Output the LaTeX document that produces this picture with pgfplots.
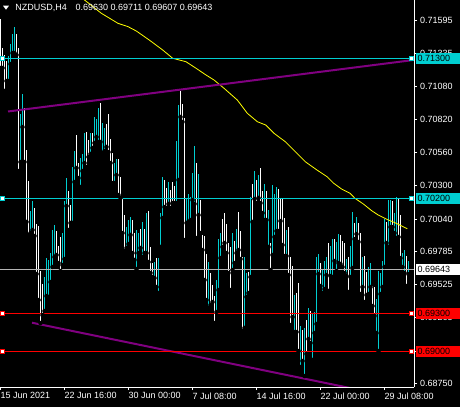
\documentclass[border=0pt]{standalone}
\usepackage{fontspec}
\setmainfont{Liberation Sans}
\usepackage{pgfplots}
\usepackage{pgfplotstable}
\pgfplotsset{compat=1.18}
\definecolor{mtcyan}{RGB}{0,206,209}
\definecolor{mtred}{RGB}{255,0,0}
\definecolor{mtpurple}{RGB}{128,0,128}
\definecolor{mtgray}{RGB}{180,180,180}
\definecolor{mtyellow}{RGB}{255,255,0}

\pgfplotstableread{
i lo hi
0 0.71224 0.71608
1 0.71224 0.71381
2 0.71044 0.71326
3 0.71122 0.71279
8 0.71326 0.71490
9 0.70416 0.71381
12 0.70487 0.70910
13 0.70017 0.70581
14 0.69915 0.70338
17 0.69907 0.70126
18 0.69609 0.70001
19 0.69405 0.69985
20 0.69225 0.69632
21 0.69287 0.69530
28 0.69758 0.69946
29 0.69695 0.69828
30 0.69632 0.69899
34 0.69954 0.70260
35 0.70009 0.70150
38 0.70440 0.70699
39 0.70361 0.70479
43 0.70448 0.70722
44 0.70526 0.70659
46 0.70597 0.70714
50 0.70644 0.70949
53 0.70605 0.70785
54 0.70565 0.70863
55 0.70479 0.70667
56 0.70322 0.70557
59 0.70228 0.70510
60 0.70205 0.70369
61 0.69930 0.70205
62 0.69789 0.70071
66 0.69773 0.70032
67 0.69719 0.69930
70 0.69813 0.69962
72 0.69773 0.69962
74 0.69703 0.70103
75 0.69617 0.69821
76 0.69585 0.69695
78 0.69507 0.69734
82 0.70134 0.70346
83 0.70126 0.70283
85 0.70126 0.70267
86 0.70165 0.70330
87 0.70165 0.70299
90 0.70840 0.71044
91 0.70801 0.70942
92 0.69875 0.70832
98 0.69891 0.70479
100 0.69930 0.70189
101 0.69797 0.69915
102 0.69562 0.69907
103 0.69405 0.69766
105 0.69366 0.69617
106 0.69389 0.69523
107 0.69225 0.69436
111 0.69821 0.70040
112 0.69852 0.70087
113 0.69773 0.70001
114 0.69617 0.69852
115 0.69483 0.69821
117 0.69695 0.69868
119 0.69797 0.70095
120 0.69726 0.69946
121 0.69162 0.69742
124 0.69460 0.69625
126 0.70017 0.70314
128 0.70165 0.70346
130 0.70165 0.70440
131 0.70087 0.70260
133 0.70032 0.70260
135 0.69640 0.69852
139 0.69946 0.70275
140 0.70024 0.70205
141 0.69836 0.70197
142 0.69750 0.70048
144 0.69601 0.69977
145 0.69209 0.69742
146 0.69272 0.69672
148 0.69154 0.69460
149 0.69005 0.69538
151 0.68927 0.69170
153 0.68982 0.69248
155 0.69068 0.69319
160 0.69515 0.69695
164 0.69476 0.69852
167 0.69711 0.69883
170 0.69687 0.69915
171 0.69664 0.69868
172 0.69617 0.69852
174 0.69468 0.69742
177 0.69883 0.70009
179 0.69860 0.70009
180 0.69452 0.69930
182 0.69389 0.69750
183 0.69444 0.69625
186 0.69358 0.69515
187 0.69280 0.69507
193 0.69852 0.70017
196 0.69977 0.70181
199 0.69899 0.70197
200 0.69734 0.70071
203 0.69515 0.69750
}\wbars

\pgfplotstableread{
i lo hi
4 0.71122 0.71318
5 0.71255 0.71412
6 0.71341 0.71490
7 0.71341 0.71545
10 0.70487 0.70863
11 0.70761 0.71020
15 0.69930 0.70103
16 0.69954 0.70181
22 0.69319 0.69585
23 0.69436 0.69734
24 0.69429 0.69719
25 0.69546 0.69773
26 0.69664 0.69954
27 0.69742 0.69993
31 0.69679 0.69930
32 0.69726 0.70181
33 0.70142 0.70361
36 0.70009 0.70448
37 0.70330 0.70573
40 0.70291 0.70518
41 0.70416 0.70550
42 0.70479 0.70714
45 0.70550 0.70714
47 0.70636 0.70840
48 0.70683 0.70824
49 0.70644 0.70910
51 0.70557 0.70793
52 0.70573 0.70753
57 0.70322 0.70479
58 0.70385 0.70510
63 0.69813 0.69977
64 0.69844 0.70032
65 0.69915 0.70056
68 0.69648 0.69954
69 0.69773 0.69930
71 0.69742 0.70017
73 0.69773 0.70087
77 0.69577 0.69703
79 0.69460 0.69734
80 0.69821 0.70087
81 0.70048 0.70369
84 0.70158 0.70330
88 0.70165 0.70652
89 0.70346 0.70934
93 0.70009 0.70197
94 0.70017 0.70236
95 0.70032 0.70213
96 0.70189 0.70401
97 0.70158 0.70612
99 0.70071 0.70393
104 0.69343 0.69703
108 0.69311 0.69562
109 0.69483 0.69883
110 0.69734 0.69930
116 0.69640 0.69930
118 0.69773 0.69962
122 0.69186 0.69742
123 0.69429 0.69617
125 0.69585 0.70213
127 0.70197 0.70416
129 0.70205 0.70385
132 0.70032 0.70314
134 0.69821 0.70111
136 0.69758 0.70307
137 0.69899 0.70236
138 0.69946 0.70291
143 0.69750 0.69954
147 0.69154 0.69444
150 0.68880 0.69201
152 0.68809 0.69186
154 0.69099 0.69342
156 0.68935 0.69303
157 0.69146 0.69311
158 0.69217 0.69742
159 0.69609 0.69766
161 0.69460 0.69648
162 0.69491 0.69711
163 0.69601 0.69742
165 0.69593 0.69828
166 0.69585 0.69883
168 0.69632 0.69860
169 0.69695 0.69922
173 0.69593 0.69726
175 0.69585 0.69828
176 0.69656 0.70095
178 0.69922 0.70056
181 0.69507 0.69742
184 0.69452 0.69664
185 0.69507 0.69695
188 0.69146 0.69413
189 0.69005 0.69632
190 0.69452 0.69617
191 0.69507 0.69711
192 0.69664 0.70040
194 0.69821 0.70189
195 0.69977 0.70189
197 0.69930 0.70087
198 0.69891 0.70213
201 0.69664 0.69773
202 0.69617 0.69797
204 0.69607 0.69711
}\cbars

\pgfplotstableread{
i ma
38 0.71809
42 0.71757
50.4 0.71653
58.75 0.71574
63.75 0.71548
67.9 0.71514
74.4 0.71443
81.1 0.71365
86.1 0.71300
92.75 0.71273
97.75 0.71222
102.75 0.71169
106.75 0.71130
111.75 0.71065
118.4 0.70973
123.4 0.70869
128.4 0.70803
132.6 0.70777
136.75 0.70712
142.4 0.70646
148.25 0.70555
152.4 0.70489
158.25 0.70424
163.25 0.70372
166.6 0.70320
170.75 0.70273
174.75 0.70242
177.25 0.70202
181.4 0.70158
185.6 0.70105
188.9 0.70071
193.1 0.70038
197.25 0.70011
200.6 0.69985
203.4 0.69964
}\matab

\begin{document}
\begin{tikzpicture}[font=\fontsize{9}{11}\selectfont]
\path[use as bounding box] (0,0) rectangle (460pt,407pt);
\fill[black] (0,0) rectangle (460pt,407pt);
\begin{axis}[at={(0pt,20pt)}, anchor=south west, scale only axis,
  width=414pt, height=387pt,
  xmin=-0.25, xmax=206.75, ymin=0.68723, ymax=0.71757,
  axis x line*=bottom, axis y line*=right,
  axis line style={white, line width=1pt, -},
  scaled ticks=false,
  xtick={0,32,64,96,128,160,192},
  xticklabels={15 Jun 2021,22 Jun 16:00,30 Jun 00:00,7 Jul 08:00,14 Jul 16:00,22 Jul 00:00,29 Jul 08:00},
  ytick={0.71595,0.71335,0.71080,0.70820,0.70560,0.70300,0.70040,0.69785,0.69525,0.69265,0.69005,0.68750},
  yticklabels={0.71595,0.71335,0.71080,0.70820,0.70560,0.70300,0.70040,0.69785,0.69525,0.69265,{},0.68750},
  tick align=outside, major tick length=3pt,
  tick style={white, line width=1pt},
  xticklabel style={anchor=north west, inner sep=0pt, text=white, yshift=-2.3pt},
  yticklabel style={anchor=west, inner sep=0pt, text=white, xshift=3pt},
  axis on top,
]
% bars
\addplot[only marks, mark=none, forget plot,
  error bars/.cd, y dir=plus, y explicit, error mark=none,
  error bar style={draw=white, line width=1pt}]
  table[x=i, y=lo, y error plus expr=\thisrow{hi}-\thisrow{lo}] {\wbars};
\addplot[only marks, mark=none, forget plot,
  error bars/.cd, y dir=plus, y explicit, error mark=none,
  error bar style={draw=mtcyan, line width=1pt}]
  table[x=i, y=lo, y error plus expr=\thisrow{hi}-\thisrow{lo}] {\cbars};
% moving average
\addplot[mtyellow, line width=0.8pt, mark=none] table[x=i, y=ma] {\matab};
% trend lines
\addplot[mtpurple, line width=2pt, mark=none] coordinates {(3.75,0.70883) (206.75,0.71287)};
\addplot[mtpurple, line width=2pt, mark=none] coordinates {(15.75,0.69227) (179.75,0.68699)};
% horizontal lines
\addplot[mtcyan, line width=1pt, mark=none] coordinates {(-0.25,0.71300) (206.75,0.71300)};
\addplot[mtcyan, line width=1pt, mark=none] coordinates {(-0.25,0.70200) (206.75,0.70200)};
\addplot[mtgray, line width=1pt, mark=none] coordinates {(-0.25,0.69643) (206.75,0.69643)};
\addplot[mtred, line width=1pt, mark=none] coordinates {(-0.25,0.69300) (206.75,0.69300)};
\addplot[mtred, line width=1pt, mark=none] coordinates {(-0.25,0.69000) (206.75,0.69000)};
\addplot[only marks, mark=square*, mark size=2pt, mark options={fill=white, draw=mtcyan, line width=1pt}]
  coordinates {(0.9,0.71300) (205.25,0.71300) (0.9,0.70200) (205.25,0.70200)};
\addplot[only marks, mark=square*, mark size=2pt, mark options={fill=white, draw=mtred, line width=1pt}]
  coordinates {(0.9,0.69300) (205.25,0.69300) (0.9,0.69000) (205.25,0.69000)};
\coordinate (r713) at (axis cs:206.75,0.71300);
\coordinate (r702) at (axis cs:206.75,0.70200);
\coordinate (r696) at (axis cs:206.75,0.69643);
\coordinate (r693) at (axis cs:206.75,0.69300);
\coordinate (r690) at (axis cs:206.75,0.69000);
\end{axis}
\tikzset{lbl/.style={anchor=west, inner xsep=2pt, inner ysep=0pt, minimum height=10.5pt, text width=42pt, align=left, text=black}}
\node[lbl, fill=mtcyan] at ([xshift=1.5pt]r713) {0.71300};
\node[lbl, fill=mtcyan] at ([xshift=1.5pt]r702) {0.70200};
\node[lbl, fill=white] at ([xshift=1.5pt]r696) {0.69643};
\node[lbl, fill=mtred] at ([xshift=1.5pt]r693) {0.69300};
\node[lbl, fill=mtred] at ([xshift=1.5pt]r690) {0.69000};
% title
\fill[white] (3pt,401.3pt) -- (9pt,401.3pt) -- (6pt,397.3pt) -- cycle;
\node[anchor=base west, inner sep=0pt, text=white] at (15.3pt,396.5pt) {NZDUSD,H4};
\node[anchor=base west, inner sep=0pt, text=white] at (75.3pt,396.5pt) {0.69630 0.69711 0.69607 0.69643};
\end{tikzpicture}
\end{document}
